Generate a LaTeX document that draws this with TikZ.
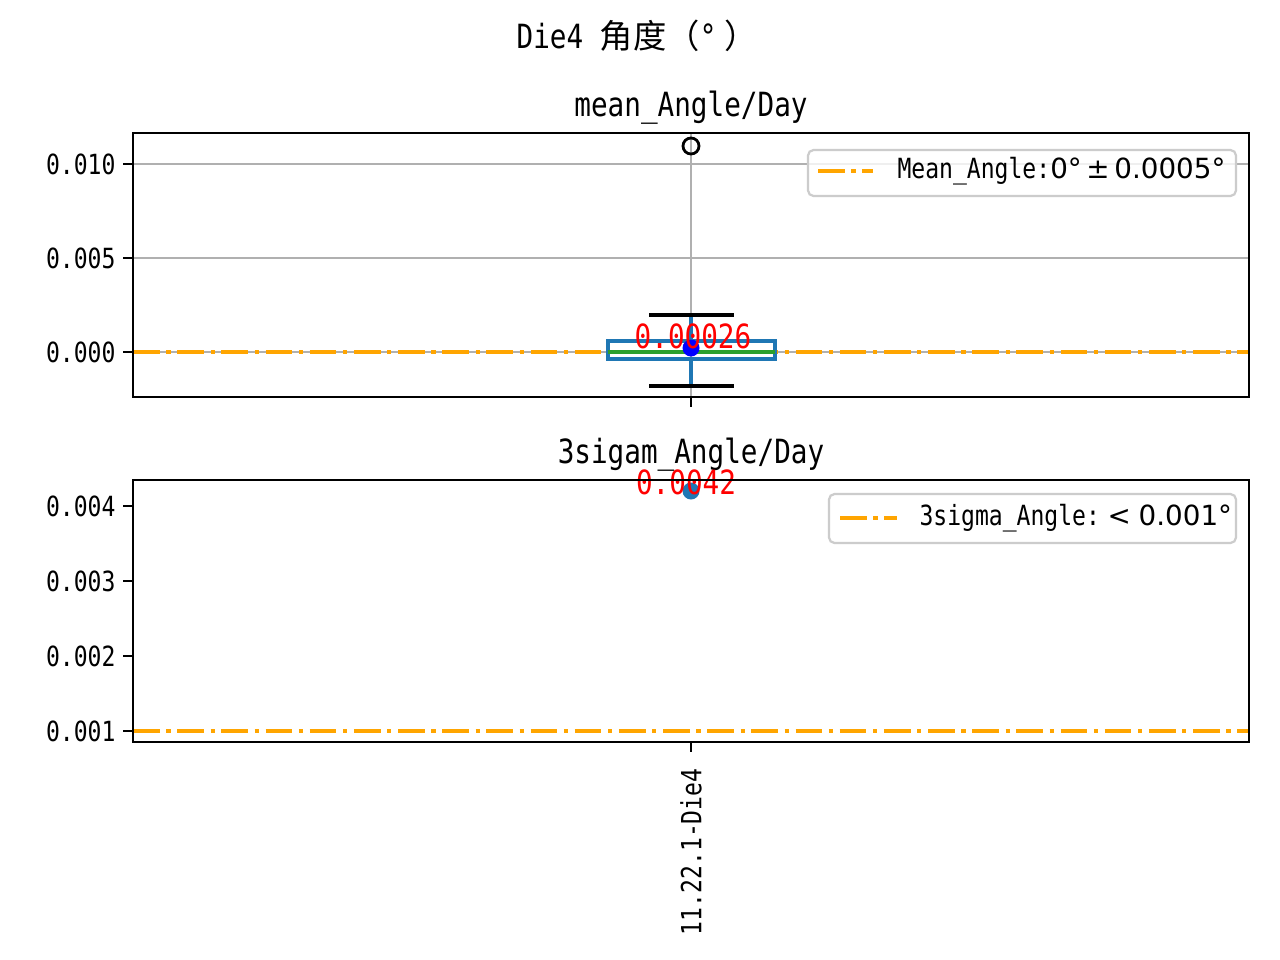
\documentclass[tikz,border=0pt]{standalone}
\usepackage{fontspec}
\setmainfont{DejaVu Sans Mono}[FakeStretch=0.83]
\newfontfamily\cjk{Noto Sans CJK SC}
\newfontfamily\mathsans{DejaVu Sans}
\usetikzlibrary{positioning}

\definecolor{mplblue}{HTML}{1F77B4}
\definecolor{mplgreen}{HTML}{2CA02C}
\definecolor{mplorange}{HTML}{FFA500}
\definecolor{gridgray}{HTML}{B0B0B0}
\definecolor{legendgray}{HTML}{CCCCCC}

\tikzset{
  spine/.style={draw=black, line width=0.8pt},
  gridline/.style={draw=gridgray, line width=0.8pt},
  limitline/.style={draw=mplorange, line width=1.5pt, dash pattern=on 9.6pt off 2.4pt on 1.5pt off 2.4pt},
  ticklabel/.style={anchor=east, inner sep=0pt, font=\fontsize{10}{12}\selectfont},
  axtitle/.style={inner sep=0pt, font=\fontsize{12}{14}\selectfont},
  valuelabel/.style={inner sep=0pt, text=red, font=\fontsize{12}{14}\selectfont},
  legendbox/.style={draw=legendgray, line width=0.8pt, fill=white, fill opacity=0.8, rounded corners=2pt},
  legendtext/.style={anchor=west, inner sep=0pt, font=\fontsize{10}{12}\selectfont},
  boxline/.style={draw=mplblue, line width=1.2pt},
  capline/.style={draw=black, line width=1.2pt}
}

\begin{document}
\begin{tikzpicture}[x=0.36pt, y=-0.36pt]
  \useasboundingbox[fill=white] (0,0) rectangle (1280,960);

  % figure title
  \node (suptitle) [axtitle] at (637,36) {Die4 {\cjk 角度（}°{\cjk\ ）}};

  % upper axes: mean_Angle/Day
  \node (meantitle) [axtitle] at (691,108) {mean\_Angle/Day};
  \foreach \y in {164,258,352}
    \draw[gridline] (133,\y) -- (1249,\y);
  \draw[gridline] (691,133) -- (691,397);
  \draw[limitline] (133,352) -- (1249,352);

  % box plot
  \draw[boxline] (691,341) -- (691,315);
  \draw[boxline] (691,359) -- (691,386);
  \draw[capline] (649,315) -- (734,315);
  \draw[capline] (649,386) -- (734,386);
  \draw[boxline] (608,341) rectangle (775,359);
  \draw[mplgreen, line width=1.2pt] (608,352) -- (775,352);
  \draw[black, line width=1pt] (691,146) circle (8);
  \fill[blue] (691,348) circle (8.5);
  \node (meanval) [valuelabel] at (693,336) {0.00026};

  \draw[spine] (133,133) rectangle (1249,397);
  \foreach \y/\lab/\n in {164/0.010/a, 258/0.005/b, 352/0.000/c} {
    \draw[spine] (123,\y) -- (133,\y);
    \node (mtick\n) [ticklabel] at (116,\y) {\lab};
  }
  \draw[spine] (691,397) -- (691,407);

  % legend upper
  \draw[legendbox] (808,150) rectangle (1236,196);
  \draw[limitline] (818,171) -- (873,171);
  \node (meanleg) [legendtext] at (897,171) {Mean\_Angle:{\mathsans 0°\,±\,0.0005°}};

  % lower axes: 3sigam_Angle/Day
  \node (sigmatitle) [axtitle] at (691,455) {3sigam\_Angle/Day};
  \draw[limitline] (133,731) -- (1249,731);
  \fill[mplblue] (691,491) circle (8.5);
  \node (sigmaval) [valuelabel] at (686,482) {0.0042};

  \draw[spine] (133,480) rectangle (1249,742);
  \foreach \y/\lab/\n in {506/0.004/a, 581/0.003/b, 656/0.002/c, 731/0.001/d} {
    \draw[spine] (123,\y) -- (133,\y);
    \node (stick\n) [ticklabel] at (116,\y) {\lab};
  }
  \draw[spine] (691,742) -- (691,752);
  \node (daylab) [ticklabel, rotate=90] at (691,768) {11.22.1-Die4};

  % legend lower
  \draw[legendbox] (829,494) rectangle (1236,543);
  \draw[limitline] (840,518) -- (897,518);
  \node (sigmaleg) [legendtext] at (919,518) {3sigma\_Angle:{\mathsans\;<\;0.001°}};
\end{tikzpicture}
\end{document}
